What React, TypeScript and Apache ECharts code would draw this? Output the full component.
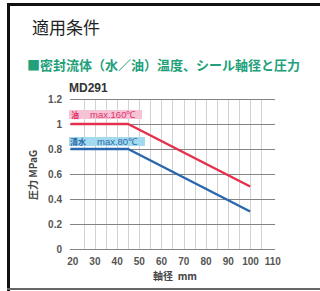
import React, { useEffect, useRef } from "react";
import * as echarts from "echarts";

// Data
const oilX = [19, 45, 100];
const oilY = [1.0, 1.0, 0.5];
const waterX = [19, 45, 100];
const waterY = [0.8, 0.8, 0.3];
const xMin = 20;
const xMax = 110;
const yMin = 0;
const yMax = 1.2;
const yStep = 0.2;
const xStep = 5;

const titleText = "適用条件";
const subtitleText = "■密封流体（水／油）温度、シール軸径と圧力";
const modelText = "MD291";
const yName = "圧力 MPaG";
const xName = "軸径  mm";
const oilLabel = ["油", "max.160℃"];
const waterLabel = ["清水", "max.80℃"];

const CJK = "'Noto Sans CJK JP', 'Noto Sans', sans-serif";
const LAT = "'Liberation Sans', Arial, sans-serif";

export default function App() {
  const ref = useRef<HTMLDivElement>(null);
  useEffect(() => {
    if (!ref.current) return;
    const chart = echarts.init(ref.current, undefined, { renderer: "svg" });
    const pairs = (xs: number[], ys: number[]) => xs.map((x, i) => [x, ys[i]]);
    chart.setOption({
      animation: false,
      backgroundColor: "#ffffff",
      grid: [
        { left: 70, top: 99, width: 205, height: 150 },
        { left: 72.7, top: 99, width: 200, height: 150 },
      ],
      xAxis: [
        { type: "value", gridIndex: 0, min: 18.8, max: 111.2, show: false },
        {
          type: "value",
          gridIndex: 1,
          min: xMin,
          max: xMax,
          interval: xStep,
          z: 1,
          axisLine: { show: false },
          axisTick: { show: false },
          axisLabel: {
            margin: 7,
            fontSize: 10,
            fontWeight: "bold",
            color: "#555",
            fontFamily: LAT,
            formatter: (v: number) => (v % 10 === 0 ? String(v) : ""),
          },
          splitLine: {
            show: true,
            showMinLine: false,
            showMaxLine: false,
            lineStyle: { color: "#d2d2d2", width: 1 },
          },
        },
      ],
      yAxis: [
        {
          type: "value",
          gridIndex: 0,
          min: yMin,
          max: yMax,
          interval: yStep,
          z: 2,
          axisLine: { show: false },
          axisTick: { show: false },
          axisLabel: {
            margin: 8,
            fontSize: 10,
            fontWeight: "bold",
            color: "#555",
            fontFamily: LAT,
          },
          splitLine: { show: true, lineStyle: { color: "#858585", width: 1 } },
        },
        { type: "value", gridIndex: 1, min: yMin, max: yMax, show: false },
      ],
      series: [
        {
          type: "line",
          xAxisIndex: 0,
          yAxisIndex: 0,
          data: pairs(oilX, oilY),
          symbol: "none",
          z: 5,
          lineStyle: { color: "#e5304d", width: 2.5 },
        },
        {
          type: "line",
          xAxisIndex: 0,
          yAxisIndex: 0,
          data: pairs(waterX, waterY),
          symbol: "none",
          z: 5,
          lineStyle: { color: "#2a68ae", width: 2.5 },
        },
      ],
      graphic: [
        { type: "rect", shape: { x: 7, y: 3, width: 313, height: 3 }, style: { fill: "#111" } },
        { type: "rect", shape: { x: 7, y: 3, width: 3, height: 288 }, style: { fill: "#111" } },
        { type: "rect", shape: { x: 7, y: 288, width: 313, height: 2 }, style: { fill: "#666" } },
        {
          type: "text",
          x: 32,
          y: 26,
          style: { text: titleText, fontSize: 17, fill: "#222", fontFamily: CJK, verticalAlign: "middle" },
        },
        {
          type: "text",
          x: 27,
          y: 64,
          style: {
            text: subtitleText,
            fontSize: 13,
            fontWeight: "bold",
            fill: "#22a07a",
            fontFamily: CJK,
            verticalAlign: "middle",
          },
        },
        {
          type: "text",
          x: 69,
          y: 88,
          style: {
            text: modelText,
            fontSize: 12,
            fontWeight: "bold",
            fill: "#333",
            fontFamily: LAT,
            verticalAlign: "middle",
          },
        },
        {
          type: "text",
          x: 32,
          y: 175,
          rotation: Math.PI / 2,
          style: {
            text: yName,
            fontSize: 10,
            fontWeight: "bold",
            fill: "#444",
            fontFamily: CJK,
            align: "center",
            verticalAlign: "middle",
          },
        },
        {
          type: "text",
          x: 175,
          y: 275,
          style: {
            text: xName,
            fontSize: 10,
            fontWeight: "bold",
            fill: "#444",
            fontFamily: CJK,
            align: "center",
            verticalAlign: "middle",
          },
        },
        { type: "rect", z: 10, shape: { x: 69, y: 110, width: 73, height: 9 }, style: { fill: "#f6c3d6" } },
        {
          type: "text",
          z: 11,
          x: 71,
          y: 114.5,
          style: { text: oilLabel[0], fontSize: 8, fontWeight: "bold", fill: "#e0336a", fontFamily: CJK, verticalAlign: "middle" },
        },
        {
          type: "text",
          z: 11,
          x: 90,
          y: 114.5,
          style: { text: oilLabel[1], fontSize: 9.5, fill: "#e0336a", fontFamily: LAT, verticalAlign: "middle" },
        },
        { type: "rect", z: 10, shape: { x: 69, y: 137, width: 76, height: 9 }, style: { fill: "#a4daee" } },
        {
          type: "text",
          z: 11,
          x: 70,
          y: 141.5,
          style: { text: waterLabel[0], fontSize: 8, fontWeight: "bold", fill: "#2a6aa8", fontFamily: CJK, verticalAlign: "middle" },
        },
        {
          type: "text",
          z: 11,
          x: 97,
          y: 141.5,
          style: { text: waterLabel[1], fontSize: 9.5, fill: "#2a6aa8", fontFamily: LAT, verticalAlign: "middle" },
        },
      ],
    });
    return () => chart.dispose();
  }, []);
  return (
    <div
      ref={ref}
      style={{ position: "fixed", left: 0, top: 0, width: 320, height: 291 }}
    />
  );
}
